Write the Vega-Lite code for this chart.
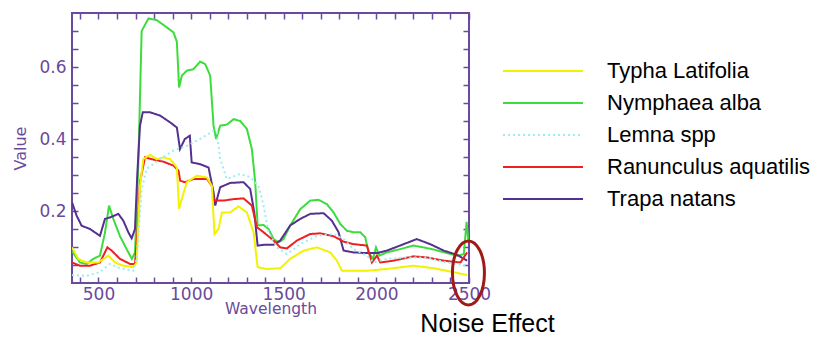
{
  "$schema": "https://vega.github.io/schema/vega-lite/v6.json",
  "width": 397,
  "height": 270,
  "autosize": {"type": "none"},
  "padding": {"left": 72, "top": 13, "right": 357, "bottom": 60},
  "background": "white",
  "config": {
    "view": {"stroke": "#6a4a9c", "strokeWidth": 2},
    "axis": {"domain": false, "grid": false, "tickColor": "#6a4a9c", "tickWidth": 1.5, "labelColor": "#6a4a9c", "titleColor": "#6a4a9c", "labelFont": "DejaVu Sans", "titleFont": "DejaVu Sans", "titleFontWeight": "normal", "labelFontSize": 17, "titleFontSize": 15.5}
  },
  "datasets": {
    "spectra": [
      {"s": "Nymphaea alba", "w": 357, "v": 0.088}, {"s": "Nymphaea alba", "w": 400, "v": 0.057}, {"s": "Nymphaea alba", "w": 436, "v": 0.053}, {"s": "Nymphaea alba", "w": 472, "v": 0.067}, {"s": "Nymphaea alba", "w": 508, "v": 0.076}, {"s": "Nymphaea alba", "w": 535, "v": 0.14}, {"s": "Nymphaea alba", "w": 557, "v": 0.215}, {"s": "Nymphaea alba", "w": 580, "v": 0.178}, {"s": "Nymphaea alba", "w": 616, "v": 0.13}, {"s": "Nymphaea alba", "w": 652, "v": 0.094}, {"s": "Nymphaea alba", "w": 680, "v": 0.067}, {"s": "Nymphaea alba", "w": 697, "v": 0.085}, {"s": "Nymphaea alba", "w": 715, "v": 0.33}, {"s": "Nymphaea alba", "w": 733, "v": 0.70}, {"s": "Nymphaea alba", "w": 770, "v": 0.735}, {"s": "Nymphaea alba", "w": 815, "v": 0.73}, {"s": "Nymphaea alba", "w": 869, "v": 0.71}, {"s": "Nymphaea alba", "w": 905, "v": 0.696}, {"s": "Nymphaea alba", "w": 923, "v": 0.67}, {"s": "Nymphaea alba", "w": 935, "v": 0.543}, {"s": "Nymphaea alba", "w": 950, "v": 0.576}, {"s": "Nymphaea alba", "w": 977, "v": 0.59}, {"s": "Nymphaea alba", "w": 1013, "v": 0.594}, {"s": "Nymphaea alba", "w": 1049, "v": 0.615}, {"s": "Nymphaea alba", "w": 1076, "v": 0.608}, {"s": "Nymphaea alba", "w": 1103, "v": 0.576}, {"s": "Nymphaea alba", "w": 1121, "v": 0.437}, {"s": "Nymphaea alba", "w": 1135, "v": 0.40}, {"s": "Nymphaea alba", "w": 1157, "v": 0.437}, {"s": "Nymphaea alba", "w": 1193, "v": 0.44}, {"s": "Nymphaea alba", "w": 1229, "v": 0.455}, {"s": "Nymphaea alba", "w": 1265, "v": 0.45}, {"s": "Nymphaea alba", "w": 1301, "v": 0.428}, {"s": "Nymphaea alba", "w": 1328, "v": 0.372}, {"s": "Nymphaea alba", "w": 1346, "v": 0.28}, {"s": "Nymphaea alba", "w": 1359, "v": 0.16}, {"s": "Nymphaea alba", "w": 1391, "v": 0.161}, {"s": "Nymphaea alba", "w": 1418, "v": 0.15}, {"s": "Nymphaea alba", "w": 1445, "v": 0.122}, {"s": "Nymphaea alba", "w": 1472, "v": 0.113}, {"s": "Nymphaea alba", "w": 1499, "v": 0.122}, {"s": "Nymphaea alba", "w": 1535, "v": 0.16}, {"s": "Nymphaea alba", "w": 1589, "v": 0.205}, {"s": "Nymphaea alba", "w": 1643, "v": 0.229}, {"s": "Nymphaea alba", "w": 1688, "v": 0.231}, {"s": "Nymphaea alba", "w": 1733, "v": 0.219}, {"s": "Nymphaea alba", "w": 1769, "v": 0.196}, {"s": "Nymphaea alba", "w": 1805, "v": 0.164}, {"s": "Nymphaea alba", "w": 1841, "v": 0.145}, {"s": "Nymphaea alba", "w": 1877, "v": 0.141}, {"s": "Nymphaea alba", "w": 1913, "v": 0.141}, {"s": "Nymphaea alba", "w": 1940, "v": 0.127}, {"s": "Nymphaea alba", "w": 1958, "v": 0.085}, {"s": "Nymphaea alba", "w": 1982, "v": 0.067}, {"s": "Nymphaea alba", "w": 1998, "v": 0.099}, {"s": "Nymphaea alba", "w": 2016, "v": 0.076}, {"s": "Nymphaea alba", "w": 2056, "v": 0.085}, {"s": "Nymphaea alba", "w": 2128, "v": 0.094}, {"s": "Nymphaea alba", "w": 2200, "v": 0.104}, {"s": "Nymphaea alba", "w": 2254, "v": 0.099}, {"s": "Nymphaea alba", "w": 2310, "v": 0.093}, {"s": "Nymphaea alba", "w": 2382, "v": 0.083}, {"s": "Nymphaea alba", "w": 2436, "v": 0.076}, {"s": "Nymphaea alba", "w": 2472, "v": 0.08}, {"s": "Nymphaea alba", "w": 2487, "v": 0.17}, {"s": "Nymphaea alba", "w": 2496, "v": 0.12},

      {"s": "Trapa natans", "w": 357, "v": 0.224}, {"s": "Trapa natans", "w": 382, "v": 0.187}, {"s": "Trapa natans", "w": 409, "v": 0.159}, {"s": "Trapa natans", "w": 454, "v": 0.15}, {"s": "Trapa natans", "w": 508, "v": 0.131}, {"s": "Trapa natans", "w": 535, "v": 0.178}, {"s": "Trapa natans", "w": 562, "v": 0.182}, {"s": "Trapa natans", "w": 607, "v": 0.192}, {"s": "Trapa natans", "w": 634, "v": 0.173}, {"s": "Trapa natans", "w": 661, "v": 0.141}, {"s": "Trapa natans", "w": 679, "v": 0.124}, {"s": "Trapa natans", "w": 697, "v": 0.15}, {"s": "Trapa natans", "w": 710, "v": 0.307}, {"s": "Trapa natans", "w": 724, "v": 0.437}, {"s": "Trapa natans", "w": 739, "v": 0.474}, {"s": "Trapa natans", "w": 779, "v": 0.474}, {"s": "Trapa natans", "w": 833, "v": 0.465}, {"s": "Trapa natans", "w": 887, "v": 0.446}, {"s": "Trapa natans", "w": 923, "v": 0.432}, {"s": "Trapa natans", "w": 940, "v": 0.372}, {"s": "Trapa natans", "w": 966, "v": 0.40}, {"s": "Trapa natans", "w": 993, "v": 0.409}, {"s": "Trapa natans", "w": 1003, "v": 0.335}, {"s": "Trapa natans", "w": 1049, "v": 0.33}, {"s": "Trapa natans", "w": 1094, "v": 0.321}, {"s": "Trapa natans", "w": 1121, "v": 0.252}, {"s": "Trapa natans", "w": 1130, "v": 0.215}, {"s": "Trapa natans", "w": 1157, "v": 0.266}, {"s": "Trapa natans", "w": 1211, "v": 0.278}, {"s": "Trapa natans", "w": 1283, "v": 0.28}, {"s": "Trapa natans", "w": 1319, "v": 0.261}, {"s": "Trapa natans", "w": 1341, "v": 0.196}, {"s": "Trapa natans", "w": 1359, "v": 0.104}, {"s": "Trapa natans", "w": 1391, "v": 0.106}, {"s": "Trapa natans", "w": 1445, "v": 0.106}, {"s": "Trapa natans", "w": 1481, "v": 0.118}, {"s": "Trapa natans", "w": 1535, "v": 0.16}, {"s": "Trapa natans", "w": 1589, "v": 0.178}, {"s": "Trapa natans", "w": 1643, "v": 0.192}, {"s": "Trapa natans", "w": 1715, "v": 0.194}, {"s": "Trapa natans", "w": 1760, "v": 0.173}, {"s": "Trapa natans", "w": 1796, "v": 0.141}, {"s": "Trapa natans", "w": 1823, "v": 0.09}, {"s": "Trapa natans", "w": 1877, "v": 0.085}, {"s": "Trapa natans", "w": 1949, "v": 0.083}, {"s": "Trapa natans", "w": 2003, "v": 0.083}, {"s": "Trapa natans", "w": 2056, "v": 0.09}, {"s": "Trapa natans", "w": 2128, "v": 0.104}, {"s": "Trapa natans", "w": 2218, "v": 0.122}, {"s": "Trapa natans", "w": 2290, "v": 0.108}, {"s": "Trapa natans", "w": 2364, "v": 0.09}, {"s": "Trapa natans", "w": 2436, "v": 0.078}, {"s": "Trapa natans", "w": 2490, "v": 0.062},

      {"s": "Ranunculus aquatilis", "w": 357, "v": 0.057}, {"s": "Ranunculus aquatilis", "w": 400, "v": 0.048}, {"s": "Ranunculus aquatilis", "w": 454, "v": 0.048}, {"s": "Ranunculus aquatilis", "w": 508, "v": 0.057}, {"s": "Ranunculus aquatilis", "w": 548, "v": 0.099}, {"s": "Ranunculus aquatilis", "w": 571, "v": 0.09}, {"s": "Ranunculus aquatilis", "w": 616, "v": 0.067}, {"s": "Ranunculus aquatilis", "w": 670, "v": 0.053}, {"s": "Ranunculus aquatilis", "w": 697, "v": 0.053}, {"s": "Ranunculus aquatilis", "w": 710, "v": 0.141}, {"s": "Ranunculus aquatilis", "w": 724, "v": 0.28}, {"s": "Ranunculus aquatilis", "w": 751, "v": 0.349}, {"s": "Ranunculus aquatilis", "w": 787, "v": 0.344}, {"s": "Ranunculus aquatilis", "w": 851, "v": 0.337}, {"s": "Ranunculus aquatilis", "w": 905, "v": 0.326}, {"s": "Ranunculus aquatilis", "w": 932, "v": 0.312}, {"s": "Ranunculus aquatilis", "w": 941, "v": 0.284}, {"s": "Ranunculus aquatilis", "w": 968, "v": 0.28}, {"s": "Ranunculus aquatilis", "w": 1013, "v": 0.289}, {"s": "Ranunculus aquatilis", "w": 1085, "v": 0.289}, {"s": "Ranunculus aquatilis", "w": 1112, "v": 0.27}, {"s": "Ranunculus aquatilis", "w": 1124, "v": 0.229}, {"s": "Ranunculus aquatilis", "w": 1175, "v": 0.229}, {"s": "Ranunculus aquatilis", "w": 1229, "v": 0.233}, {"s": "Ranunculus aquatilis", "w": 1283, "v": 0.235}, {"s": "Ranunculus aquatilis", "w": 1328, "v": 0.215}, {"s": "Ranunculus aquatilis", "w": 1355, "v": 0.155}, {"s": "Ranunculus aquatilis", "w": 1391, "v": 0.141}, {"s": "Ranunculus aquatilis", "w": 1445, "v": 0.118}, {"s": "Ranunculus aquatilis", "w": 1481, "v": 0.099}, {"s": "Ranunculus aquatilis", "w": 1517, "v": 0.096}, {"s": "Ranunculus aquatilis", "w": 1571, "v": 0.118}, {"s": "Ranunculus aquatilis", "w": 1643, "v": 0.136}, {"s": "Ranunculus aquatilis", "w": 1697, "v": 0.138}, {"s": "Ranunculus aquatilis", "w": 1769, "v": 0.13}, {"s": "Ranunculus aquatilis", "w": 1823, "v": 0.115}, {"s": "Ranunculus aquatilis", "w": 1877, "v": 0.108}, {"s": "Ranunculus aquatilis", "w": 1949, "v": 0.104}, {"s": "Ranunculus aquatilis", "w": 1976, "v": 0.057}, {"s": "Ranunculus aquatilis", "w": 2003, "v": 0.076}, {"s": "Ranunculus aquatilis", "w": 2021, "v": 0.057}, {"s": "Ranunculus aquatilis", "w": 2092, "v": 0.062}, {"s": "Ranunculus aquatilis", "w": 2200, "v": 0.074}, {"s": "Ranunculus aquatilis", "w": 2272, "v": 0.071}, {"s": "Ranunculus aquatilis", "w": 2364, "v": 0.062}, {"s": "Ranunculus aquatilis", "w": 2454, "v": 0.057}, {"s": "Ranunculus aquatilis", "w": 2490, "v": 0.085},

      {"s": "Typha Latifolia", "w": 357, "v": 0.099}, {"s": "Typha Latifolia", "w": 391, "v": 0.067}, {"s": "Typha Latifolia", "w": 436, "v": 0.057}, {"s": "Typha Latifolia", "w": 499, "v": 0.057}, {"s": "Typha Latifolia", "w": 553, "v": 0.076}, {"s": "Typha Latifolia", "w": 589, "v": 0.057}, {"s": "Typha Latifolia", "w": 634, "v": 0.048}, {"s": "Typha Latifolia", "w": 688, "v": 0.044}, {"s": "Typha Latifolia", "w": 706, "v": 0.057}, {"s": "Typha Latifolia", "w": 724, "v": 0.27}, {"s": "Typha Latifolia", "w": 742, "v": 0.344}, {"s": "Typha Latifolia", "w": 778, "v": 0.356}, {"s": "Typha Latifolia", "w": 814, "v": 0.344}, {"s": "Typha Latifolia", "w": 851, "v": 0.349}, {"s": "Typha Latifolia", "w": 887, "v": 0.344}, {"s": "Typha Latifolia", "w": 923, "v": 0.321}, {"s": "Typha Latifolia", "w": 935, "v": 0.206}, {"s": "Typha Latifolia", "w": 955, "v": 0.243}, {"s": "Typha Latifolia", "w": 977, "v": 0.28}, {"s": "Typha Latifolia", "w": 1031, "v": 0.298}, {"s": "Typha Latifolia", "w": 1085, "v": 0.293}, {"s": "Typha Latifolia", "w": 1112, "v": 0.27}, {"s": "Typha Latifolia", "w": 1126, "v": 0.136}, {"s": "Typha Latifolia", "w": 1148, "v": 0.15}, {"s": "Typha Latifolia", "w": 1166, "v": 0.196}, {"s": "Typha Latifolia", "w": 1211, "v": 0.196}, {"s": "Typha Latifolia", "w": 1256, "v": 0.213}, {"s": "Typha Latifolia", "w": 1301, "v": 0.196}, {"s": "Typha Latifolia", "w": 1337, "v": 0.141}, {"s": "Typha Latifolia", "w": 1359, "v": 0.044}, {"s": "Typha Latifolia", "w": 1409, "v": 0.039}, {"s": "Typha Latifolia", "w": 1481, "v": 0.041}, {"s": "Typha Latifolia", "w": 1535, "v": 0.067}, {"s": "Typha Latifolia", "w": 1607, "v": 0.09}, {"s": "Typha Latifolia", "w": 1679, "v": 0.099}, {"s": "Typha Latifolia", "w": 1751, "v": 0.085}, {"s": "Typha Latifolia", "w": 1787, "v": 0.062}, {"s": "Typha Latifolia", "w": 1814, "v": 0.034}, {"s": "Typha Latifolia", "w": 1949, "v": 0.034}, {"s": "Typha Latifolia", "w": 2056, "v": 0.039}, {"s": "Typha Latifolia", "w": 2200, "v": 0.048}, {"s": "Typha Latifolia", "w": 2310, "v": 0.041}, {"s": "Typha Latifolia", "w": 2418, "v": 0.03}, {"s": "Typha Latifolia", "w": 2490, "v": 0.022},

      {"s": "Lemna spp", "w": 357, "v": 0.022}, {"s": "Lemna spp", "w": 436, "v": 0.02}, {"s": "Lemna spp", "w": 508, "v": 0.03}, {"s": "Lemna spp", "w": 562, "v": 0.053}, {"s": "Lemna spp", "w": 616, "v": 0.041}, {"s": "Lemna spp", "w": 688, "v": 0.034}, {"s": "Lemna spp", "w": 706, "v": 0.067}, {"s": "Lemna spp", "w": 733, "v": 0.26}, {"s": "Lemna spp", "w": 760, "v": 0.317}, {"s": "Lemna spp", "w": 833, "v": 0.344}, {"s": "Lemna spp", "w": 905, "v": 0.368}, {"s": "Lemna spp", "w": 977, "v": 0.381}, {"s": "Lemna spp", "w": 1049, "v": 0.40}, {"s": "Lemna spp", "w": 1121, "v": 0.423}, {"s": "Lemna spp", "w": 1139, "v": 0.419}, {"s": "Lemna spp", "w": 1157, "v": 0.344}, {"s": "Lemna spp", "w": 1193, "v": 0.289}, {"s": "Lemna spp", "w": 1265, "v": 0.303}, {"s": "Lemna spp", "w": 1319, "v": 0.294}, {"s": "Lemna spp", "w": 1364, "v": 0.27}, {"s": "Lemna spp", "w": 1391, "v": 0.215}, {"s": "Lemna spp", "w": 1418, "v": 0.141}, {"s": "Lemna spp", "w": 1463, "v": 0.099}, {"s": "Lemna spp", "w": 1517, "v": 0.08}, {"s": "Lemna spp", "w": 1589, "v": 0.108}, {"s": "Lemna spp", "w": 1679, "v": 0.131}, {"s": "Lemna spp", "w": 1769, "v": 0.136}, {"s": "Lemna spp", "w": 1823, "v": 0.122}, {"s": "Lemna spp", "w": 1877, "v": 0.094}, {"s": "Lemna spp", "w": 1949, "v": 0.076}, {"s": "Lemna spp", "w": 1985, "v": 0.057}, {"s": "Lemna spp", "w": 2056, "v": 0.067}, {"s": "Lemna spp", "w": 2164, "v": 0.071}, {"s": "Lemna spp", "w": 2272, "v": 0.071}, {"s": "Lemna spp", "w": 2382, "v": 0.057}, {"s": "Lemna spp", "w": 2490, "v": 0.048}
    ],
    "notes": [
      {"kind": "ring", "w": 2497, "v": 0.028, "label": ""},
      {"kind": "text", "w": 2600, "v": -0.114, "label": "Noise Effect"}
    ]
  },
  "layer": [
    {
      "data": {"name": "spectra"},
      "mark": {"type": "line", "strokeWidth": 2, "clip": true},
      "encoding": {
        "x": {"field": "w", "type": "quantitative", "title": "Wavelength",
          "scale": {"domain": [357, 2500], "nice": false, "zero": false},
          "axis": {"orient": "bottom", "values": [400,500,600,700,800,900,1000,1100,1200,1300,1400,1500,1600,1700,1800,1900,2000,2100,2200,2300,2400,2500],
            "labelExpr": "datum.value % 500 === 0 ? format(datum.value, 'd') : ''",
            "tickSize": -6, "labelPadding": 9, "labelFlush": false, "labelOverlap": false, "titlePadding": -1}},
        "y": {"field": "v", "type": "quantitative", "title": "Value",
          "scale": {"domain": [0, 0.75], "nice": false},
          "axis": {"orient": "left", "values": [0.05,0.1,0.15,0.2,0.25,0.3,0.35,0.4,0.45,0.5,0.55,0.6,0.65,0.7],
            "labelExpr": "round(datum.value*100) % 20 === 0 ? format(datum.value, '.1f') : ''",
            "tickSize": -6, "labelPadding": 12, "labelOverlap": false, "titlePadding": 10, "titleFontSize": 16}},
        "color": {"field": "s", "type": "nominal",
          "scale": {"domain": ["Typha Latifolia", "Nymphaea alba", "Lemna spp", "Ranunculus aquatilis", "Trapa natans"],
                    "range": ["#f2f200", "#3ddc3d", "#9cecf0", "#ee2020", "#56308f"]},
          "legend": {"orient": "none", "legendX": 460, "legendY": 47, "title": null,
            "symbolType": "M -4 0 L 4 0", "symbolSize": 400, "symbolStrokeWidth": 2,
            "labelFont": "Liberation Sans", "labelFontSize": 22, "labelColor": "black", "labelOffset": 53,
            "rowPadding": 10, "padding": 0, "labelLimit": 300}},
        "strokeDash": {"field": "s", "type": "nominal",
          "scale": {"domain": ["Typha Latifolia", "Nymphaea alba", "Lemna spp", "Ranunculus aquatilis", "Trapa natans"],
                    "range": [[1,0],[1,0],[2,3],[1,0],[1,0]]},
          "legend": null}
      }
    },
    {
      "data": {"name": "notes"},
      "transform": [{"filter": "datum.kind === 'ring'"}],
      "mark": {"type": "point", "shape": "M -0.5 0 A 0.5 1 0 1 0 0.5 0 A 0.5 1 0 1 0 -0.5 0 Z", "size": 4096, "filled": false, "stroke": "#a11a1a", "strokeWidth": 3, "opacity": 1},
      "encoding": {
        "x": {"field": "w", "type": "quantitative",
          "axis": {"orient": "top", "values": [400,500,600,700,800,900,1000,1100,1200,1300,1400,1500,1600,1700,1800,1900,2000,2100,2200,2300,2400,2500], "labels": false, "title": null, "tickSize": -6}},
        "y": {"field": "v", "type": "quantitative",
          "axis": {"orient": "right", "values": [0.05,0.1,0.15,0.2,0.25,0.3,0.35,0.4,0.45,0.5,0.55,0.6,0.65,0.7], "labels": false, "title": null, "tickSize": -6}}
      }
    },
    {
      "data": {"name": "notes"},
      "transform": [{"filter": "datum.kind === 'text'"}],
      "mark": {"type": "text", "font": "Liberation Sans", "fontSize": 25, "color": "black", "align": "center", "baseline": "middle"},
      "encoding": {
        "x": {"field": "w", "type": "quantitative", "axis": null},
        "y": {"field": "v", "type": "quantitative", "axis": null},
        "text": {"field": "label"}
      }
    }
  ],
  "resolve": {"axis": {"x": "independent", "y": "independent"}}
}
